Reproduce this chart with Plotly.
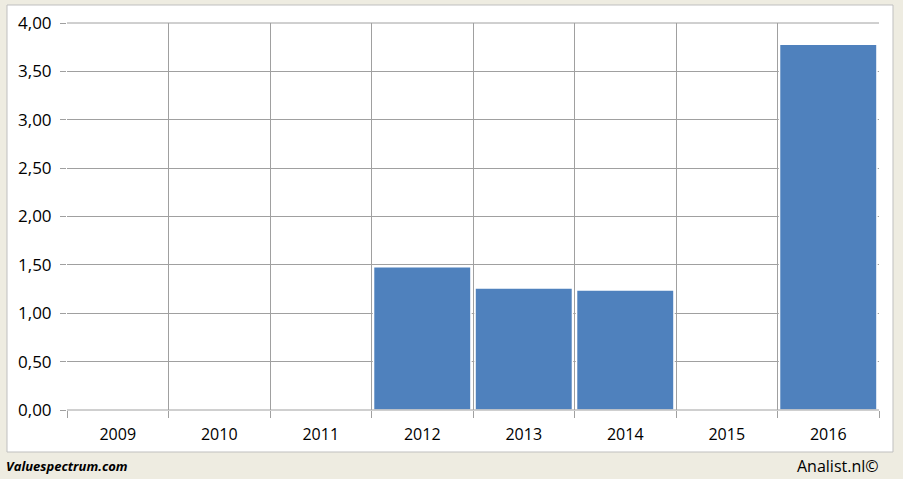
import plotly.graph_objects as go

years = ["2009", "2010", "2011", "2012", "2013", "2014", "2015", "2016"]
values = [0, 0, 0, 1.48, 1.26, 1.24, 0, 3.78]

fig = go.Figure()
fig.add_trace(go.Bar(
    x=years, y=values,
    marker=dict(color="#4F81BD", line=dict(color="white", width=1.5)),
    hoverinfo="x+y",
))

grid = "#A0A0A0"
fig.update_layout(
    width=903, height=479,
    margin=dict(l=67, r=24, t=23, b=69),
    paper_bgcolor="#EEECE1",
    plot_bgcolor="white",
    bargap=0.04,
    separators=",.",
    showlegend=False,
    font=dict(family="Open Sans, DejaVu Sans, sans-serif", size=16, color="black"),
    xaxis=dict(
        type="category", tickson="boundaries", showgrid=True, gridcolor=grid, gridwidth=1,
        ticks="outside", ticklen=7, tickcolor=grid, showline=False, zeroline=False,
        ticklabelstandoff=13, tickfont=dict(size=16),
    ),
    yaxis=dict(
        range=[0, 4], dtick=0.5, tickformat=".2f", showgrid=True, gridcolor=grid, gridwidth=1,
        ticks="outside", ticklen=6, tickcolor=grid, showline=False, zeroline=False,
        ticklabelstandoff=5, tickfont=dict(size=17),
    ),
    shapes=[
        dict(type="rect", xref="paper", yref="paper", layer="below",
             x0=-60/812, x1=(893-67)/812, y0=-(452-410)/387, y1=(410-5)/387,
             fillcolor="white", line=dict(color="#BFBFBF", width=1)),
        dict(type="line", xref="paper", yref="paper", x0=0, x1=1, y0=1, y1=1,
             line=dict(color=grid, width=1)),
        dict(type="line", xref="paper", yref="paper", x0=0, x1=1, y0=0, y1=0,
             line=dict(color=grid, width=1)),
    ],
    annotations=[
        dict(text="<b><i>Valuespectrum.com</i></b>", xref="paper", yref="paper",
             x=-63/812, y=-(466-410)/387, xanchor="left", yanchor="middle", showarrow=False,
             font=dict(size=13, color="black")),
        dict(text="Analist.nl©", xref="paper", yref="paper",
             x=(881-67)/812, y=-(466-410)/387, xanchor="right", yanchor="middle", showarrow=False,
             font=dict(size=16, color="black")),
    ],
)

fig.write_html("out.html", config={"displayModeBar": False},
               post_script="document.body.style.margin='0';document.body.style.padding='0';document.documentElement.style.background='#EEECE1';")
